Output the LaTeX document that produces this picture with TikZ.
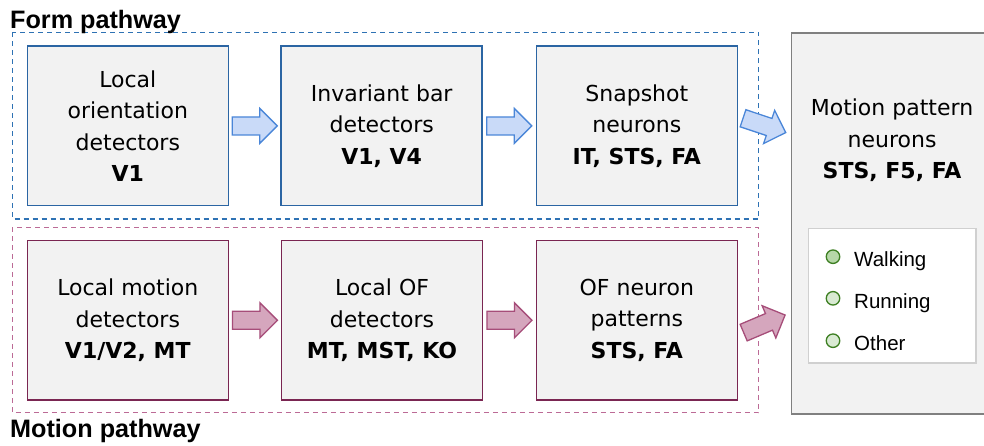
\documentclass[tikz,border=0pt]{standalone}
\usepackage{fontspec}
\setmainfont{DejaVu Sans}
\newfontfamily\arialfont{Liberation Sans}
\usetikzlibrary{calc}

\definecolor{boxfill}{HTML}{F2F2F2}
\definecolor{formedge}{HTML}{2B65A3}
\definecolor{formdash}{HTML}{2E72B4}
\definecolor{formarrowfill}{HTML}{C9DAF8}
\definecolor{formarrowedge}{HTML}{4A86D8}
\definecolor{motionedge}{HTML}{7A2652}
\definecolor{motiondash}{HTML}{BC6A96}
\definecolor{motionarrowfill}{HTML}{D5A6BD}
\definecolor{motionarrowedge}{HTML}{A64D79}
\definecolor{bigedge}{HTML}{808080}
\definecolor{legendedge}{HTML}{D0D0D0}
\definecolor{dotedge}{HTML}{3D7F22}
\definecolor{dotdark}{HTML}{B6D7A8}
\definecolor{dotlight}{HTML}{D9EAD3}

\newcommand\boxtext{\fontsize{22}{31.5}\selectfont}
\newcommand\pathlabel{\arialfont\bfseries\fontsize{25.2}{28}\selectfont}
\newcommand\legendtext{\arialfont\fontsize{20.5}{24}\selectfont}

\tikzset{
  stagebox/.style={fill=boxfill, line width=1.5pt, minimum width=201pt,
    minimum height=159.5pt, align=center, font=\boxtext, inner sep=0pt},
  formbox/.style={stagebox, draw=formedge},
  motionbox/.style={stagebox, draw=motionedge},
  groupframe/.style={line width=1.4pt, dash pattern=on 5pt off 4pt},
  formarrow/.style={draw=formarrowedge, fill=formarrowfill, line width=1.3pt},
  motionarrow/.style={draw=motionarrowedge, fill=motionarrowfill, line width=1.3pt},
  legenddot/.style={circle, draw=dotedge, line width=1.3pt, minimum size=13.5pt, inner sep=0pt},
  legendlabel/.style={anchor=base west, inner sep=0pt, font=\legendtext},
  blockarrow/.pic={
    \draw[pic actions] (-22.5,-9) -- (5,-9) -- (5,-17.5) -- (22.5,0)
      -- (5,17.5) -- (5,9) -- (-22.5,9) -- cycle;
  }
}

\begin{document}
\begin{tikzpicture}[x=1pt, y=-1pt]
\clip (0,0) rectangle (984,445);
\fill[white] (0,0) rectangle (984,445);

% pathway frames
\draw[groupframe, draw=formdash] (12.3,32.3) rectangle (758.7,219);
\draw[groupframe, draw=motiondash] (12.3,227.3) rectangle (758.7,412.7);

\node[anchor=base west, inner sep=0pt, font=\pathlabel] (formlabel) at (10,28.5) {Form pathway};
\node[anchor=base west, inner sep=0pt, font=\pathlabel] (motionlabel) at (10,437.5) {Motion pathway};

% form pathway stages
\node[formbox] (b1) at (127.8,125.9) {Local\\orientation\\detectors\\\textbf{V1}};
\node[formbox] (b2) at (381.7,125.9) {Invariant bar\\detectors\\\textbf{V1, V4}};
\node[formbox] (b3) at (636.8,125.9) {Snapshot\\neurons\\\textbf{IT, STS, FA}};

% motion pathway stages
\node[motionbox] (b4) at (127.8,320.3) {Local motion\\detectors\\\textbf{V1/V2, MT}};
\node[motionbox] (b5) at (382,320.3) {Local OF\\detectors\\\textbf{MT, MST, KO}};
\node[motionbox] (b6) at (636.8,320.3) {OF neuron\\patterns\\\textbf{STS, FA}};

% integration stage
\node[draw=bigedge, fill=boxfill, line width=1.5pt, anchor=north west,
  minimum width=205pt, minimum height=381pt, inner sep=0pt] (big) at (790.7,32.3) {};
\node[align=center, font=\boxtext, inner sep=0pt] (bigtext) at (892,140.5)
  {Motion pattern\\neurons\\\textbf{STS, F5, FA}};

% categories
\node[draw=legendedge, fill=white, line width=1.2pt, anchor=north west,
  minimum width=167.6pt, minimum height=134.6pt, inner sep=0pt] (legend) at (807.7,227.7) {};
\node[legenddot, fill=dotdark] (d1) at (833,256.7) {};
\node[legenddot, fill=dotlight] (d2) at (833,298.3) {};
\node[legenddot, fill=dotlight] (d3) at (833,340.7) {};
\node[legendlabel] (t1) at (854,266.5) {Walking};
\node[legendlabel] (t2) at (854,308.2) {Running};
\node[legendlabel] (t3) at (854,350.3) {Other};

% block arrows between stages
\pic[formarrow] (a12) at ($(b1.east)!0.5!(b2.west)$) {blockarrow};
\pic[formarrow] (a23) at ($(b2.east)!0.5!(b3.west)$) {blockarrow};
\pic[formarrow, rotate=-18.5] (a3big) at ($(b3.east)!0.5!(big.west |- b3.east)+(0,-0.5)$) {blockarrow};
\pic[motionarrow] (a45) at ($(b4.east)!0.5!(b5.west)$) {blockarrow};
\pic[motionarrow] (a56) at ($(b5.east)!0.5!(b6.west)$) {blockarrow};
\pic[motionarrow, rotate=23] (a6big) at ($(b6.east)!0.5!(big.west |- b6.east)+(0,3.5)$) {blockarrow};
\end{tikzpicture}
\end{document}
